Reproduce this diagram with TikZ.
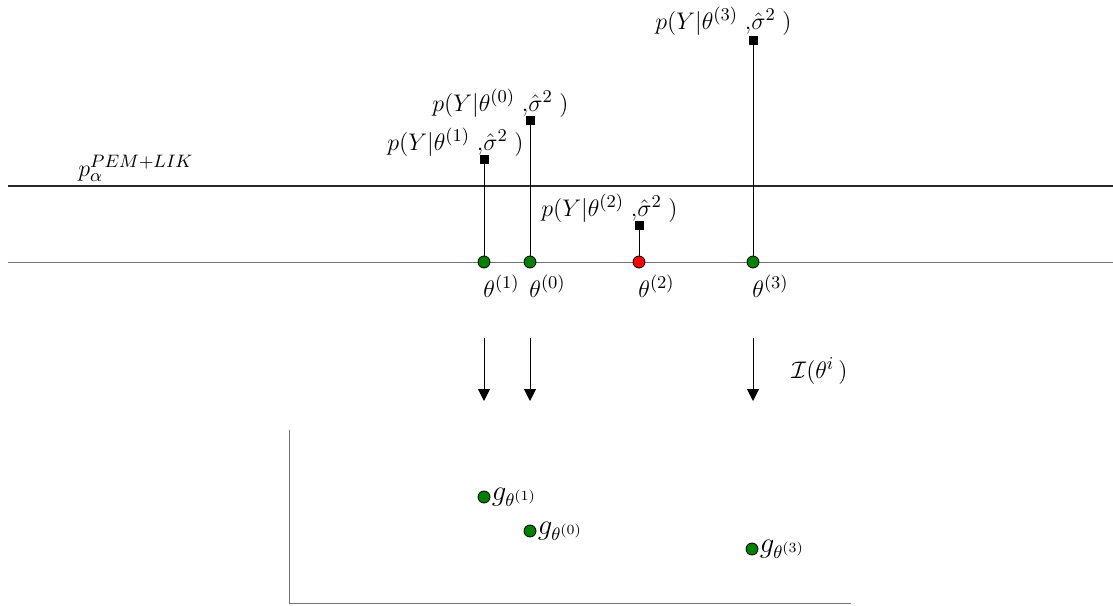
\documentclass[tikz,border=0pt]{standalone}
\usetikzlibrary{arrows.meta}
\begin{document}
\begin{tikzpicture}[x=0.5pt,y=-0.5pt,
  gdot/.style={circle,fill=green!50!black,draw=black,line width=0.4pt,minimum size=6pt,inner sep=0pt},
  rdot/.style={circle,fill=red,draw=black,line width=0.4pt,minimum size=6pt,inner sep=0pt},
  sq/.style={rectangle,fill=black,minimum size=4.5pt,inner sep=0pt},
  stem/.style={line width=0.5pt,black},
  lbl/.style={inner sep=1pt,font=\fontsize{12.6}{15}\selectfont},
  darrow/.style={line width=0.5pt,-{Triangle[length=6pt,width=6pt]}}]
\useasboundingbox (0,0) rectangle (1113,605);
% reference lines
\draw[line width=0.7pt,black!85] (8,186) -- (1113,186);
\draw[line width=0.5pt,black!55] (8,262) -- (1113,262);
\node[lbl,anchor=base west] (plab) at (76,176) {$p_\alpha^{PEM+LIK}$};
% parameter points
\node[gdot] (t1) at (484,262) {};
\node[gdot] (t0) at (530,262) {};
\node[rdot] (t2) at (639,262) {};
\node[gdot] (t3) at (753,262) {};
% likelihood markers
\node[sq] (s1) at (484,159) {};
\node[sq] (s0) at (530,120) {};
\node[sq] (s2) at (639,225) {};
\node[sq] (s3) at (753,40) {};
\draw[stem] (t1) -- (s1);
\draw[stem] (t0) -- (s0);
\draw[stem] (t2) -- (s2);
\draw[stem] (t3) -- (s3);
\node[lbl,anchor=base west] (l1) at (385,150) {$p(Y|\theta^{(1)}\;{,}\hat\sigma^2\;)$};
\node[lbl,anchor=base west] (l0) at (430,111) {$p(Y|\theta^{(0)}\;{,}\hat\sigma^2\;)$};
\node[lbl,anchor=base west] (l2) at (539,216) {$p(Y|\theta^{(2)}\;{,}\hat\sigma^2\;)$};
\node[lbl,anchor=base west] (l3) at (653,29) {$p(Y|\theta^{(3)}\;{,}\hat\sigma^2\;)$};
% parameter labels
\node[lbl,anchor=base west] (n1) at (481,297) {$\theta^{(1)}$};
\node[lbl,anchor=base west] (n0) at (527,297) {$\theta^{(0)}$};
\node[lbl,anchor=base west] (n2) at (636,297) {$\theta^{(2)}$};
\node[lbl,anchor=base west] (n3) at (750,297) {$\theta^{(3)}$};
% mapping arrows
\coordinate (a1s) at (484,338); \coordinate (a1e) at (484,401);
\coordinate (a0s) at (530,338); \coordinate (a0e) at (530,401);
\coordinate (a3s) at (753,338); \coordinate (a3e) at (753,401);
\draw[darrow] (a1s) -- (a1e);
\draw[darrow] (a0s) -- (a0e);
\draw[darrow] (a3s) -- (a3e);
\node[lbl,anchor=base west] (info) at (789,378) {$\mathcal{I}(\theta^i\,)$};
% embedding space
\coordinate (ax0) at (289,430);
\coordinate (ax1) at (289,603);
\coordinate (ax2) at (851,603);
\draw[line width=0.5pt,black!55] (ax0) -- (ax1) -- (ax2);
\node[gdot] (g1) at (484,497) {};
\node[gdot] (g0) at (530,531) {};
\node[gdot] (g3) at (752,549) {};
\node[lbl,anchor=west,inner sep=0.5pt,font=\fontsize{13.5}{16}\selectfont] (gl1) at (g1.east) {$g_{\theta^{(1)}}$};
\node[lbl,anchor=west,inner sep=0.5pt,font=\fontsize{13.5}{16}\selectfont] (gl0) at (g0.east) {$g_{\theta^{(0)}}$};
\node[lbl,anchor=west,inner sep=0.5pt,font=\fontsize{13.5}{16}\selectfont] (gl3) at (g3.east) {$g_{\theta^{(3)}}$};
\end{tikzpicture}
\end{document}
